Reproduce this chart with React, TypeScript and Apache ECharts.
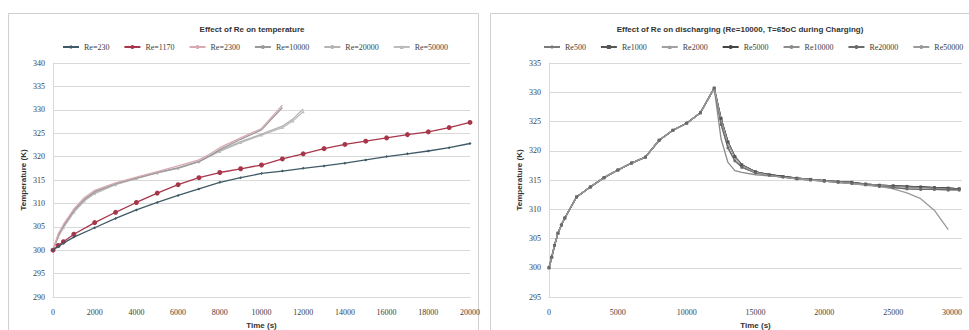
import React, { useEffect, useRef } from "react";
import * as echarts from "echarts";

// ---------- Left chart data: Effect of Re on temperature ----------
const leftSeriesNames = ["Re=230", "Re=1170", "Re=2300", "Re=10000", "Re=20000", "Re=50000"];

const timeLong = [0, 250, 500, 1000, 2000, 3000, 4000, 5000, 6000, 7000, 8000, 9000, 10000, 11000, 12000, 13000, 14000, 15000, 16000, 17000, 18000, 19000, 20000];
const tempRe230 = [300, 300.8, 301.5, 302.8, 304.8, 306.8, 308.6, 310.2, 311.7, 313.1, 314.5, 315.5, 316.4, 316.9, 317.5, 318.0, 318.6, 319.3, 320.0, 320.6, 321.2, 321.9, 322.8];
const tempRe1170 = [300, 301.0, 301.8, 303.4, 305.9, 308.1, 310.2, 312.2, 314.0, 315.5, 316.6, 317.4, 318.2, 319.5, 320.6, 321.7, 322.6, 323.3, 324.0, 324.7, 325.3, 326.2, 327.3];

const timeShort = [0, 250, 500, 1000, 1500, 2000, 3000, 4000, 5000, 6000, 7000, 7500, 8000, 9000, 10000, 11000];
const tempRe2300 = [300, 303.5, 305.5, 308.8, 311.2, 312.8, 314.4, 315.6, 316.8, 318.0, 319.3, 320.5, 321.9, 324.0, 326.0, 331.0];
const tempRe10000 = [300, 303.2, 305.2, 308.5, 310.9, 312.5, 314.2, 315.4, 316.6, 317.6, 318.9, 320.1, 321.5, 323.7, 325.7, 330.5];

const timeMid = [0, 250, 500, 1000, 1500, 2000, 3000, 4000, 5000, 6000, 7000, 8000, 9000, 10000, 11000, 11500, 12000];
const tempRe20000 = [300, 303.0, 305.0, 308.3, 310.7, 312.3, 314.1, 315.4, 316.6, 317.6, 319.0, 321.3, 323.2, 324.8, 326.5, 328.0, 330.2];
const tempRe50000 = [300, 302.8, 304.8, 308.1, 310.5, 312.1, 314.0, 315.3, 316.5, 317.5, 318.9, 321.1, 323.0, 324.6, 326.2, 327.6, 329.6];

// ---------- Right chart data: Effect of Re on discharging ----------
const rightSeriesNames = ["Re500", "Re1000", "Re2000", "Re5000", "Re10000", "Re20000", "Re50000"];

const chargeTime = [0, 200, 400, 650, 900, 1150, 2000, 3000, 4000, 5000, 6000, 7000, 8000, 9000, 10000, 11000, 12000];
const chargeTemp = [300, 301.8, 303.8, 305.9, 307.3, 308.5, 312.1, 313.8, 315.4, 316.7, 317.9, 318.9, 321.8, 323.5, 324.7, 326.5, 330.7];

const dischargeTime = [12500, 13000, 13500, 14000, 15000, 16000, 17000, 18000, 19000, 20000, 21000, 22000, 23000, 24000, 25000, 26000, 27000, 28000, 29000, 29800];
const dischargeMain = [325.5, 321.5, 319.0, 317.6, 316.4, 315.9, 315.6, 315.3, 315.1, 314.9, 314.7, 314.6, 314.3, 314.1, 314.0, 313.9, 313.8, 313.7, 313.6, 313.5];
const dischargeFast = [322.0, 318.0, 316.6, 316.3, 315.9, 315.7, 315.5, 315.3, 315.1, 314.9, 314.7, 314.5, 314.3, 314.1, 313.9, 313.8, 313.7, 313.6, 313.5, 313.4];
const dischargeMid = [324.5, 320.5, 318.3, 317.2, 316.2, 315.8, 315.5, 315.2, 315.0, 314.8, 314.6, 314.4, 314.2, 313.9, 313.7, 313.5, 313.4, 313.4, 313.3, 313.3];
const dischargeDipTime = [12500, 13000, 13500, 14000, 15000, 16000, 17000, 18000, 19000, 20000, 21000, 22000, 23000, 24000, 25000, 26000, 27000, 28000, 29000];
const dischargeDip = [325.3, 321.3, 318.9, 317.5, 316.3, 315.8, 315.5, 315.2, 315.0, 314.8, 314.6, 314.4, 314.1, 313.9, 313.5, 312.8, 311.8, 309.8, 306.5];

const pair = (xs: number[], ys: number[]) => xs.map((x, i) => [x, ys[i]]);

export default function App() {
  const ref = useRef<HTMLDivElement>(null);
  useEffect(() => {
    if (!ref.current) return;
    const chart = echarts.init(ref.current, null, { renderer: "svg" });
    const serif = "Liberation Serif";
    const sans = "Liberation Sans";
    const tickColor = "#404040";
    const gridLine = { show: true, lineStyle: { color: "#d9d9d9", width: 1 } };

    const leftColors = ["#3f5a66", "#a8364a", "#d7aab2", "#9a9a9a", "#b3b3b3", "#bcbcbc"];
    const leftData = [
      pair(timeLong, tempRe230),
      pair(timeLong, tempRe1170),
      pair(timeShort, tempRe2300),
      pair(timeShort, tempRe10000),
      pair(timeMid, tempRe20000),
      pair(timeMid, tempRe50000),
    ];
    const leftSymbols = ["diamond", "circle", "none", "none", "none", "triangle"];
    const leftSeries = leftSeriesNames.map((name, i) => ({
      type: "line",
      name,
      xAxisIndex: 0,
      yAxisIndex: 0,
      data: leftData[i],
      symbol: leftSymbols[i],
      symbolSize: i === 1 ? 5 : 3,
      showSymbol: leftSymbols[i] !== "none",
      lineStyle: { color: leftColors[i], width: 1.3 },
      itemStyle: { color: leftColors[i] },
      z: 10 - i,
    }));

    const rightColors = ["#7a7a7a", "#555555", "#a0a0a0", "#444444", "#8c8c8c", "#6a6a6a", "#9a9a9a"];
    const rightSymbols = ["diamond", "rect", "triangle", "none", "none", "circle", "none"];
    const rightDischarge = [
      pair(dischargeTime, dischargeMain),
      pair(dischargeTime, dischargeMain),
      pair(dischargeTime, dischargeMid),
      pair(dischargeTime, dischargeMain),
      pair(dischargeTime, dischargeFast),
      pair(dischargeTime, dischargeMid),
      pair(dischargeDipTime, dischargeDip),
    ];
    const rightSeries = rightSeriesNames.map((name, i) => ({
      type: "line",
      name,
      xAxisIndex: 1,
      yAxisIndex: 1,
      data: [...pair(chargeTime, chargeTemp), ...rightDischarge[i]],
      symbol: rightSymbols[i],
      symbolSize: 3,
      showSymbol: rightSymbols[i] !== "none",
      lineStyle: { color: rightColors[i], width: 1.3 },
      itemStyle: { color: rightColors[i] },
    }));

    const legendCommon = {
      itemWidth: 16,
      itemHeight: 5,
      itemGap: 14,
      textStyle: { fontFamily: serif, fontSize: 8, color: tickColor },
      top: 38,
    };

    const axisLabel = { fontFamily: serif, fontSize: 8, color: tickColor, formatter: (v: number) => String(v) };
    const xAxisLabel = { ...axisLabel, margin: 11 };
    const axisName = { fontFamily: sans, fontSize: 8, fontWeight: "bold", color: "#333" };

    chart.setOption({
      animation: false,
      backgroundColor: "#ffffff",
      graphic: [
        { type: "rect", shape: { x: 8.5, y: 13.5, width: 470, height: 330 }, style: { fill: "none", stroke: "#d0d0d0", lineWidth: 1 } },
        { type: "rect", shape: { x: 490.5, y: 13.5, width: 480, height: 330 }, style: { fill: "none", stroke: "#d0d0d0", lineWidth: 1 } },
      ],
      title: [
        { text: "Effect of Re on temperature", left: 247, top: 20, textAlign: "center", textStyle: { fontFamily: sans, fontSize: 8, fontWeight: "bold", color: "#333" } },
        { text: "Effect of Re on discharging (Re=10000, T=65oC during Charging)", left: 735, top: 20, textAlign: "center", textStyle: { fontFamily: sans, fontSize: 8, fontWeight: "bold", color: "#333" } },
      ],
      legend: [
        { ...legendCommon, data: leftSeriesNames, left: 57 },
        { ...legendCommon, data: rightSeriesNames, left: 538 },
      ],
      grid: [
        { left: 53, top: 63, width: 417, height: 234, containLabel: false, outerBoundsMode: "none" },
        { left: 549, top: 63, width: 413, height: 234, containLabel: false, outerBoundsMode: "none" },
      ],
      xAxis: [
        {
          type: "value", gridIndex: 0, min: 0, max: 20000, interval: 2000,
          name: "Time (s)", nameLocation: "middle", nameGap: 24, nameTextStyle: axisName,
          axisLine: { show: true, lineStyle: { color: "#d9d9d9" } }, axisTick: { show: false },
          splitLine: { show: false }, axisLabel: xAxisLabel,
        },
        {
          type: "value", gridIndex: 1, min: 0, max: 30000, interval: 5000,
          name: "Time (s)", nameLocation: "middle", nameGap: 24, nameTextStyle: axisName,
          axisLine: { show: true, lineStyle: { color: "#d9d9d9" } }, axisTick: { show: false },
          splitLine: { show: false }, axisLabel: { ...xAxisLabel, alignMaxLabel: "right" },
        },
      ],
      yAxis: [
        {
          type: "value", gridIndex: 0, min: 290, max: 340, interval: 5,
          name: "Temperature (K)", nameLocation: "middle", nameRotate: 90, nameGap: 26, nameTextStyle: axisName,
          axisLine: { show: true, lineStyle: { color: "#d9d9d9" } }, axisTick: { show: false },
          splitLine: gridLine, axisLabel,
        },
        {
          type: "value", gridIndex: 1, min: 295, max: 335, interval: 5,
          name: "Temperature (K)", nameLocation: "middle", nameRotate: 90, nameGap: 26, nameTextStyle: axisName,
          axisLine: { show: true, lineStyle: { color: "#d9d9d9" } }, axisTick: { show: false },
          splitLine: gridLine, axisLabel,
        },
      ],
      series: [...leftSeries, ...rightSeries],
    });
    return () => chart.dispose();
  }, []);
  return <div ref={ref} style={{ position: "absolute", left: 0, top: 0, width: 969, height: 330 }} />;
}
